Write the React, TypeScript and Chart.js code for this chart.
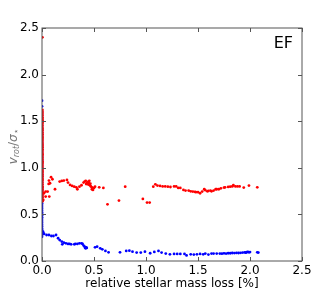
import React, { useEffect, useRef } from "react";
import { Chart, registerables } from "chart.js";

Chart.register(...registerables);

const xTicks = [0.0, 0.5, 1.0, 1.5, 2.0, 2.5];
const yTicks = [0.0, 0.5, 1.0, 1.5, 2.0, 2.5];
const xTitle = "relative stellar mass loss [%]";
const panelLabel = "EF";

// red series (upper)
const redX = [
  0.004, 0.004, 0.004, 0.004, 0.004, 0.004, 0.004, 0.004, 0.004, 0.004,
  0.004, 0.004, 0.004, 0.004, 0.004, 0.004, 0.004, 0.004, 0.004, 0.004,
  0.004, 0.004, 0.004, 0.004, 0.004, 0.004, 0.004, 0.004, 0.004, 0.004,
  0.004, 0.004, 0.004, 0.004, 0.004, 0.004, 0.004, 0.004, 0.004, 0.004,
  0.004, 0.004, 0.004, 0.004, 0.004, 0.004, 0.004, 0.004, 0.004, 0.004,
  0.004, 0.004, 0.004, 0.004, 0.004, 0.004,
  0.012, 0.018, 0.035, 0.035, 0.054, 0.064, 0.067, 0.07, 0.077, 0.087,
  0.1, 0.125, 0.17, 0.19, 0.21, 0.24, 0.25, 0.27, 0.29, 0.31,
  0.33, 0.34, 0.36, 0.38, 0.4, 0.41, 0.42, 0.425, 0.43, 0.44,
  0.445, 0.45, 0.455, 0.46, 0.465, 0.47, 0.48, 0.48, 0.49, 0.5,
  0.51, 0.55, 0.59, 0.63, 0.74, 0.8, 0.97, 1.01, 1.035, 1.07,
  1.09, 1.11, 1.135, 1.16, 1.185, 1.21, 1.235, 1.27, 1.29, 1.31,
  1.33, 1.36, 1.38, 1.41, 1.43, 1.45, 1.47, 1.48, 1.5, 1.52,
  1.54, 1.56, 1.57, 1.59, 1.6, 1.62, 1.63, 1.65, 1.67, 1.68,
  1.7, 1.72, 1.75, 1.76, 1.79, 1.81, 1.83, 1.84, 1.86, 1.88,
  1.9, 1.94, 1.99, 2.07,
];
const redY = [
  0.64, 0.66, 0.685, 0.7, 0.72, 0.735, 0.75, 0.77, 0.79, 0.8,
  0.82, 0.84, 0.86, 0.875, 0.89, 0.91, 0.93, 0.95, 0.965, 0.98,
  1.0, 1.02, 1.04, 1.055, 1.07, 1.09, 1.11, 1.13, 1.145, 1.16,
  1.18, 1.2, 1.22, 1.235, 1.25, 1.27, 1.29, 1.31, 1.325, 1.34,
  1.36, 1.38, 1.4, 1.415, 1.43, 1.45, 1.47, 1.49, 1.51, 1.525,
  1.54, 1.56, 1.58, 1.6, 1.62, 2.4,
  0.655, 0.727, 0.691, 0.745, 0.745, 0.827, 0.863, 0.691, 0.834, 0.899,
  0.877, 0.77, 0.852, 0.859, 0.863, 0.87, 0.841, 0.816, 0.806, 0.798,
  0.791, 0.77, 0.798, 0.813, 0.841, 0.852, 0.86, 0.825, 0.834, 0.848,
  0.82, 0.834, 0.86, 0.813, 0.83, 0.8, 0.791, 0.77, 0.763, 0.784,
  0.798, 0.791, 0.784, 0.608, 0.648, 0.798, 0.666, 0.627, 0.627, 0.798,
  0.823, 0.809, 0.806, 0.8, 0.8, 0.798, 0.794, 0.8, 0.8, 0.784,
  0.784, 0.763, 0.756, 0.756, 0.748, 0.745, 0.742, 0.738, 0.738, 0.727,
  0.745, 0.77, 0.76, 0.748, 0.752, 0.756, 0.748, 0.756, 0.77, 0.77,
  0.77, 0.78, 0.788, 0.791, 0.795, 0.798, 0.8, 0.813, 0.8, 0.8,
  0.8, 0.788, 0.809, 0.79,
];

// blue series (lower)
const blueX = [
  0.0, 0.0, 0.0, 0.0, 0.0, 0.0, 0.0, 0.0, 0.0, 0.0,
  0.0, 0.0, 0.0, 0.0, 0.0, 0.0, 0.0, 0.0, 0.0, 0.0,
  0.0, 0.0, 0.0, 0.0, 0.0, 0.0, 0.0, 0.0, 0.0, 0.0,
  0.0, 0.0, 0.0, 0.0, 0.0, 0.0, 0.0, 0.0, 0.0, 0.0,
  0.0, 0.0, 0.0, 0.0, 0.0, 0.0, 0.0, 0.0, 0.0, 0.0,
  0.0, 0.0, 0.0, 0.0, 0.0, 0.0, 0.0, 0.0, 0.0, 0.0,
  0.0, 0.0, 0.0, 0.0, 0.0, 0.0, 0.0, 0.0,
  0.01, 0.013, 0.02, 0.044, 0.067, 0.09, 0.11, 0.135, 0.155, 0.17,
  0.19, 0.195, 0.21, 0.23, 0.25, 0.265, 0.28, 0.31, 0.32, 0.34,
  0.36, 0.38, 0.39, 0.4, 0.41, 0.415, 0.42, 0.425, 0.43, 0.51,
  0.53, 0.56, 0.58, 0.61, 0.64, 0.75, 0.81, 0.84, 0.87, 0.91,
  0.95, 0.99, 1.04, 1.08, 1.12, 1.15, 1.19, 1.23, 1.27, 1.3,
  1.33, 1.37, 1.39, 1.43, 1.46, 1.49, 1.52, 1.55, 1.57, 1.6,
  1.63, 1.65, 1.68, 1.71, 1.73, 1.75, 1.77, 1.79, 1.81, 1.83,
  1.85, 1.87, 1.89, 1.91, 1.93, 1.95, 1.96, 1.97, 1.98, 1.99,
  2.0, 2.07, 2.08,
];
const blueY = [
  0.26, 0.28, 0.3, 0.32, 0.335, 0.35, 0.37, 0.39, 0.41, 0.43,
  0.45, 0.47, 0.49, 0.505, 0.52, 0.54, 0.56, 0.58, 0.6, 0.62,
  0.64, 0.66, 0.68, 0.7, 0.72, 0.74, 0.76, 0.78, 0.8, 0.82,
  0.84, 0.86, 0.88, 0.9, 0.92, 0.94, 0.96, 0.98, 1.0, 1.02,
  1.04, 1.06, 1.08, 1.1, 1.12, 1.14, 1.16, 1.18, 1.2, 1.22,
  1.24, 1.26, 1.28, 1.3, 1.32, 1.34, 1.36, 1.38, 1.4, 1.42,
  1.45, 1.48, 1.51, 1.54, 1.57, 1.6, 1.66, 1.72,
  0.315, 0.298, 0.29, 0.279, 0.279, 0.268, 0.268, 0.279, 0.244, 0.225,
  0.208, 0.179, 0.197, 0.19, 0.183, 0.183, 0.179, 0.179, 0.183, 0.183,
  0.19, 0.19, 0.183, 0.165, 0.154, 0.14, 0.136, 0.147, 0.14, 0.147,
  0.154, 0.136, 0.125, 0.108, 0.093, 0.093, 0.108, 0.111, 0.1, 0.09,
  0.09, 0.1, 0.083, 0.097, 0.108, 0.09, 0.08, 0.072, 0.076, 0.076,
  0.076, 0.076, 0.06, 0.072, 0.069, 0.072, 0.076, 0.072, 0.08, 0.069,
  0.08, 0.08, 0.08, 0.08, 0.079, 0.082, 0.08, 0.083, 0.083, 0.086,
  0.085, 0.087, 0.086, 0.088, 0.09, 0.092, 0.089, 0.095, 0.098, 0.093,
  0.096, 0.093, 0.09,
];

const FONT = "'DejaVu Sans', sans-serif";
const AXIS_COLOR = "#555555";

const framePlugin = {
  id: "frame",
  afterDraw(chart: any) {
    const { ctx, chartArea } = chart;
    const { left, right, top, bottom } = chartArea;
    const xs = chart.scales.x;
    const ys = chart.scales.y;
    ctx.save();
    ctx.strokeStyle = AXIS_COLOR;
    ctx.lineWidth = 1;
    ctx.strokeRect(left, top, right - left, bottom - top);
    const tl = 4;
    ctx.beginPath();
    for (const v of xTicks) {
      const px = Math.round(xs.getPixelForValue(v)) + 0.5;
      ctx.moveTo(px, bottom);
      ctx.lineTo(px, bottom - tl);
      ctx.moveTo(px, top);
      ctx.lineTo(px, top + tl);
    }
    for (const v of yTicks) {
      const py = Math.round(ys.getPixelForValue(v)) + 0.5;
      ctx.moveTo(left, py);
      ctx.lineTo(left + tl, py);
      ctx.moveTo(right, py);
      ctx.lineTo(right - tl, py);
    }
    ctx.stroke();

    // panel label
    ctx.fillStyle = "#000";
    ctx.font = `16px ${FONT}`;
    ctx.textAlign = "right";
    ctx.textBaseline = "top";
    ctx.fillText(panelLabel, right - 9, top + 8);

    // y-axis label v_rot / sigma_star
    ctx.translate(14, (top + bottom) / 2 + 2);
    ctx.rotate(-Math.PI / 2);
    const big = `italic 12px ${FONT}`;
    const small = `italic 8px ${FONT}`;
    const parts = [
      { t: "v", f: big, dy: 0 },
      { t: "rot", f: small, dy: 3 },
      { t: "/", f: `12px ${FONT}`, dy: 0 },
      { t: "σ", f: big, dy: 0 },
      { t: "⋆", f: `9px ${FONT}`, dy: 3 },
    ];
    let total = 0;
    for (const p of parts) {
      ctx.font = p.f;
      total += ctx.measureText(p.t).width;
    }
    let cx = -total / 2;
    ctx.fillStyle = "#777";
    ctx.textAlign = "left";
    ctx.textBaseline = "middle";
    for (const p of parts) {
      ctx.font = p.f;
      ctx.fillText(p.t, cx, p.dy);
      cx += ctx.measureText(p.t).width;
    }
    ctx.restore();
  },
};

export default function App() {
  const ref = useRef<HTMLCanvasElement | null>(null);
  useEffect(() => {
    if (!ref.current) return;
    const red = redX.map((x, i) => ({ x, y: redY[i] }));
    const blue = blueX.map((x, i) => ({ x, y: blueY[i] }));
    const chart = new Chart(ref.current, {
      type: "scatter",
      data: {
        datasets: [
          {
            data: red,
            backgroundColor: "#ff0000",
            borderWidth: 0,
            pointRadius: 1.4,
          },
          {
            data: blue,
            backgroundColor: "#0000ff",
            borderWidth: 0,
            pointRadius: 1.4,
          },
        ],
      },
      options: {
        animation: false,
        responsive: false,
        maintainAspectRatio: false,
        layout: { padding: { left: 0, right: 30, top: 28, bottom: 0 } },
        plugins: {
          legend: { display: false },
          tooltip: { enabled: false },
        },
        scales: {
          x: {
            type: "linear",
            min: 0,
            max: 2.5,
            afterBuildTicks(scale: any) {
              scale.ticks = xTicks.map((v) => ({ value: v }));
            },
            afterFit(scale: any) {
              scale.height = 30;
            },
            grid: { display: false, drawTicks: false },
            border: { display: false },
            ticks: {
              padding: 3,
              color: "#000",
              font: { family: FONT, size: 12 },
              maxRotation: 0,
              callback: (v: any) => Number(v).toFixed(1),
            },
            title: {
              display: true,
              text: xTitle,
              color: "#000",
              font: { family: FONT, size: 12 },
              padding: { top: 0, bottom: 0 },
            },
          },
          y: {
            type: "linear",
            min: 0,
            max: 2.5,
            afterBuildTicks(scale: any) {
              scale.ticks = yTicks.map((v) => ({ value: v }));
            },
            afterFit(scale: any) {
              scale.width = 42;
            },
            grid: { display: false, drawTicks: false },
            border: { display: false },
            ticks: {
              padding: 3,
              color: "#000",
              font: { family: FONT, size: 12 },
              callback: (v: any) => Number(v).toFixed(1),
            },
          },
        },
      },
      plugins: [framePlugin],
    });
    return () => chart.destroy();
  }, []);
  return (
    <div style={{ position: "absolute", left: 0, top: 0, width: 332, height: 291, background: "#fff" }}>
      <canvas ref={ref} width={332} height={291} style={{ width: 332, height: 291 }} />
    </div>
  );
}
